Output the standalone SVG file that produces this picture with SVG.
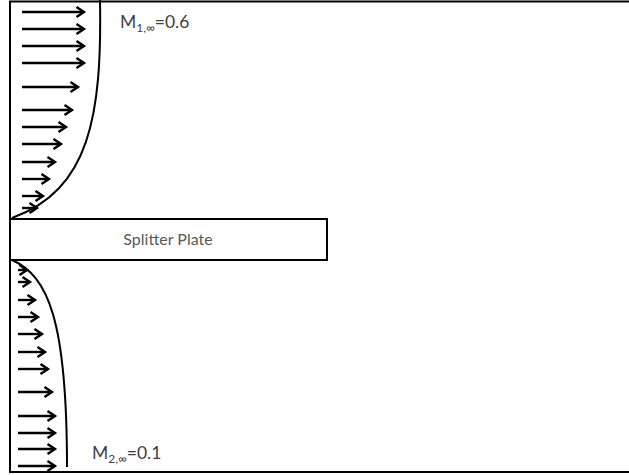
<svg xmlns="http://www.w3.org/2000/svg" width="629" height="475" viewBox="0 0 629 475">
<style>
.frame{fill:#fff;stroke:#000;stroke-width:2}
.prof{fill:none;stroke:#000;stroke-width:2}
.arr{stroke:#000;stroke-width:2.4;fill:none;marker-end:url(#ah)}
.lbl{font-family:Lato,"Open Sans",sans-serif;fill:#404040}
.plate{font-family:Lato,"Open Sans",sans-serif;fill:#595959;font-size:16px}
</style>
<defs>
<marker id="ah" markerUnits="userSpaceOnUse" markerWidth="14" markerHeight="14" refX="10" refY="7" orient="auto">
<path d="M2.5,2 L10,7 L2.5,12" fill="none" stroke="#000" stroke-width="2.4"/>
</marker>
</defs>
<rect width="629" height="475" fill="#fff"/>
<rect class="frame" x="10" y="1.5" width="625" height="470.5"/>
<g id="upper-profile">
<path class="prof" d="M100,0 C102,115 90,190 12,218"/>
</g>
<g id="lower-profile">
<path class="prof" d="M12,260 C48,276 67,320 67,467"/>
</g>
<g id="splitter-plate">
<rect x="10" y="219" width="317" height="41" fill="#fff" stroke="#000" stroke-width="2"/>
<text class="plate" x="168" y="245" text-anchor="middle">Splitter Plate</text>
</g>
<g id="label-m1">
<text class="lbl" x="120" y="28" font-size="17.5">M<tspan font-size="12" dy="4">1,∞</tspan><tspan dy="-4">=0.6</tspan></text>
</g>
<g id="label-m2">
<text class="lbl" x="92" y="459" font-size="17.5">M<tspan font-size="12" dy="4">2,∞</tspan><tspan dy="-4">=0.1</tspan></text>
</g>
<g id="connectors">
<line class="arr" x1="22" y1="12" x2="84" y2="12"/>
<line class="arr" x1="22" y1="29" x2="84" y2="29"/>
<line class="arr" x1="22" y1="46" x2="84" y2="46"/>
<line class="arr" x1="22" y1="63" x2="84" y2="63"/>
<line class="arr" x1="22" y1="87" x2="78" y2="87"/>
<line class="arr" x1="22" y1="110" x2="72" y2="110"/>
<line class="arr" x1="22" y1="127" x2="66" y2="127"/>
<line class="arr" x1="22" y1="144" x2="61" y2="144"/>
<line class="arr" x1="22" y1="162" x2="55" y2="162"/>
<line class="arr" x1="22" y1="179" x2="49" y2="179"/>
<line class="arr" x1="22" y1="196" x2="43" y2="196"/>
<line class="arr" x1="22" y1="208" x2="37" y2="208"/>
<line class="arr" x1="18" y1="270" x2="27" y2="270"/>
<line class="arr" x1="18" y1="282" x2="30" y2="282"/>
<line class="arr" x1="18" y1="300" x2="35" y2="300"/>
<line class="arr" x1="18" y1="317" x2="38" y2="317"/>
<line class="arr" x1="18" y1="334" x2="42" y2="334"/>
<line class="arr" x1="18" y1="352" x2="45" y2="352"/>
<line class="arr" x1="18" y1="369" x2="48" y2="369"/>
<line class="arr" x1="18" y1="392" x2="52" y2="392"/>
<line class="arr" x1="18" y1="416" x2="55" y2="416"/>
<line class="arr" x1="18" y1="433" x2="55" y2="433"/>
<line class="arr" x1="18" y1="449" x2="55" y2="449"/>
<line class="arr" x1="18" y1="466" x2="55" y2="466"/>
</g>
</svg>
